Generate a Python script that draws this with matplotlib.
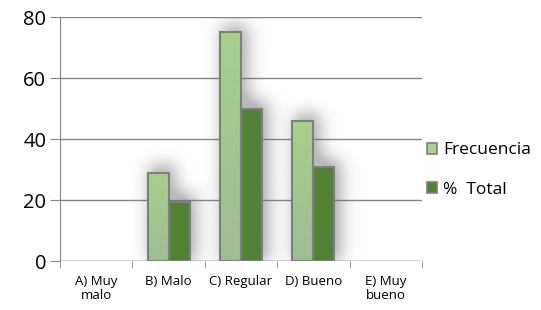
import numpy as np
import matplotlib.pyplot as plt

categorias = ["A) Muy\nmalo", "B) Malo", "C) Regular", "D) Bueno", "E) Muy\nbueno"]
frecuencia = [0, 29, 75, 46, 0]
porc_total = [0, 19.3, 50, 30.7, 0]

plt.rcParams['font.family'] = ['Open Sans', 'DejaVu Sans']

fig = plt.figure(figsize=(5.41, 3.10), dpi=100)
ax = fig.add_axes([0.111, 0.158, 0.669, 0.787])

x = np.arange(len(categorias))
ancho = 0.29
borde = '#7f7f7f'

# sombra difusa detras de las barras
gx = np.linspace(-0.5, 4.5, 500)
gy = np.linspace(0, 80, 400)
mask = np.zeros((len(gy), len(gx)))
for i in range(len(x)):
    for dx, v in [(-ancho / 2, frecuencia[i]), (ancho / 2, porc_total[i])]:
        if v > 0:
            xs = (gx >= x[i] + dx - ancho / 2 + 0.06) & (gx <= x[i] + dx + ancho / 2 + 0.06)
            ys = gy <= v + 2.5
            mask[np.ix_(ys, xs)] = 1
k = np.exp(-np.linspace(-3, 3, 81) ** 2 / 2)
k /= k.sum()
blur = np.apply_along_axis(lambda r: np.convolve(r, k, mode='same'), 1, mask)
blur = np.apply_along_axis(lambda c: np.convolve(c, k, mode='same'), 0, blur)
sombra = np.zeros((len(gy), len(gx), 4))
sombra[..., :3] = 0.4
sombra[..., 3] = np.clip(blur * 0.7, 0, 0.45)
ax.imshow(sombra, extent=[-0.5, 4.5, 0, 80], origin='lower', aspect='auto', zorder=1)

# gradiente para la serie Frecuencia
grad = np.linspace(0, 1, 100).reshape(-1, 1)
c_bajo = np.array([0.63, 0.74, 0.58])
c_alto = np.array([0.66, 0.82, 0.55])
img = c_bajo + (c_alto - c_bajo) * grad[..., None]

for i in range(len(x)):
    if frecuencia[i] > 0:
        x0 = x[i] - ancho
        ax.imshow(img, extent=[x0, x0 + ancho, 0, frecuencia[i]], origin='lower',
                  aspect='auto', zorder=3)
lw1 = [1.5 if v > 0 else 0 for v in frecuencia]
lw2 = [1.5 if v > 0 else 0 for v in porc_total]
ax.bar(x - ancho / 2, frecuencia, ancho, facecolor='none', edgecolor=borde,
       linewidth=lw1, zorder=4)
ax.bar(x + ancho / 2, porc_total, ancho, color='#538135', edgecolor=borde,
       linewidth=lw2, zorder=4)

ax.set_xlim(-0.5, 4.5)
ax.set_ylim(0, 80)
ax.set_yticks([0, 20, 40, 60, 80])
ax.yaxis.grid(True, color='#868686', linewidth=1)
ax.set_axisbelow(True)
for s in ['top', 'right', 'bottom']:
    ax.spines[s].set_visible(False)
ax.spines['left'].set_color('#868686')
ax.axhline(0, color='#868686', linewidth=1, zorder=2)
ax.tick_params(axis='y', labelsize=14.5, length=7, color='#868686', pad=3)

ax.set_xticks(x)
ax.set_xticklabels(categorias, fontsize=9.5, linespacing=1.15)
ax.tick_params(axis='x', length=0, pad=10)
ax.set_xticks(np.arange(-0.5, 5, 1), minor=True)
ax.tick_params(axis='x', which='minor', length=5, color='#868686')

h1 = plt.Rectangle((0, 0), 1, 1, facecolor='#a9d18e', edgecolor=borde, linewidth=1.2)
h2 = plt.Rectangle((0, 0), 1, 1, facecolor='#538135', edgecolor=borde, linewidth=1.2)
fig.legend([h1, h2], ['Frecuencia', '%  Total'], loc='center left',
           bbox_to_anchor=(0.789, 0.452), frameon=False, fontsize=12.5,
           handlelength=0.6, handleheight=0.6, handletextpad=0.35, labelspacing=1.35,
           borderpad=0, borderaxespad=0)

fig.savefig('out.png', dpi=100)
